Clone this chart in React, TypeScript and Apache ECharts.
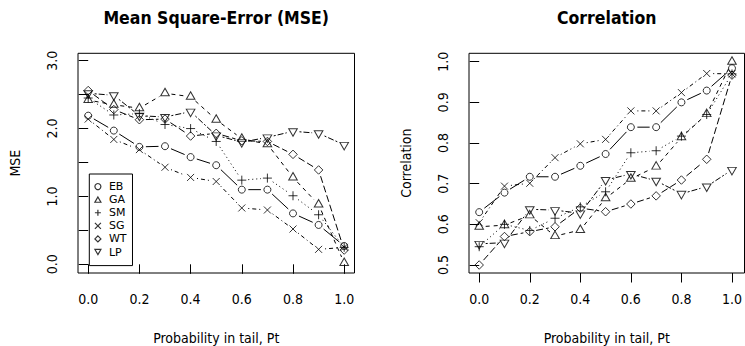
import React, { useEffect, useRef } from "react";
import * as echarts from "echarts";

// ---- data ----
const probTail = [0, 0.1, 0.2, 0.3, 0.4, 0.5, 0.6, 0.7, 0.8, 0.9, 1.0];
const methods = ["EB", "GA", "SM", "SG", "WT", "LP"];

const mseEB = [2.19, 1.97, 1.73, 1.74, 1.58, 1.46, 1.10, 1.10, 0.75, 0.58, 0.27];
const mseGA = [2.42, 2.35, 2.30, 2.52, 2.47, 2.13, 1.85, 1.77, 1.28, 0.88, 0.02];
const mseSM = [2.45, 2.20, 2.22, 2.06, 2.00, 1.81, 1.24, 1.27, 1.01, 0.73, 0.25];
const mseSG = [2.14, 1.84, 1.69, 1.43, 1.28, 1.22, 0.83, 0.80, 0.52, 0.22, 0.25];
const mseWT = [2.56, 2.28, 2.13, 2.14, 1.89, 1.93, 1.82, 1.81, 1.62, 1.39, 0.21];
const mseLP = [2.52, 2.49, 2.19, 2.17, 2.25, 1.90, 1.80, 1.87, 1.96, 1.93, 1.76];

const corEB = [0.630, 0.678, 0.717, 0.717, 0.744, 0.773, 0.839, 0.839, 0.900, 0.929, 0.984];
const corGA = [0.594, 0.598, 0.622, 0.571, 0.586, 0.664, 0.712, 0.742, 0.814, 0.871, 1.000];
const corSM = [0.545, 0.600, 0.585, 0.615, 0.643, 0.680, 0.776, 0.781, 0.817, 0.870, 0.970];
const corSG = [0.604, 0.694, 0.701, 0.764, 0.798, 0.809, 0.879, 0.879, 0.924, 0.971, 0.970];
const corWT = [0.500, 0.570, 0.582, 0.594, 0.640, 0.631, 0.650, 0.670, 0.709, 0.760, 0.967];
const corLP = [0.552, 0.555, 0.637, 0.635, 0.627, 0.709, 0.724, 0.707, 0.675, 0.693, 0.734];

const mseSeries = [mseEB, mseGA, mseSM, mseSG, mseWT, mseLP];
const corSeries = [corEB, corGA, corSM, corSG, corWT, corLP];

const titles = ["Mean Square-Error (MSE)", "Correlation"];
const yNames = ["MSE", "Correlation"];
const xName = "Probability in tail, Pt";

// ---- styles ----
const FONT = "'DejaVu Sans Condensed', 'DejaVu Sans', sans-serif";
const RAD = 3.2;
const symbols: any[] = [
  { symbol: "circle", size: 7, offset: [0, 0] },
  { symbol: "path://M0,-1.555L1.347,0.778L-1.347,0.778Z", size: [8.6, 7.5], offset: [0, -0.389 * RAD] },
  { symbol: "path://M-1,0L1,0M0,-1L0,1", size: 9, offset: [0, 0] },
  { symbol: "path://M-1,-1L1,1M1,-1L-1,1", size: 7, offset: [0, 0] },
  { symbol: "path://M0,-1L1,0L0,1L-1,0Z", size: 8.5, offset: [0, 0] },
  { symbol: "path://M0,1.555L1.347,-0.778L-1.347,-0.778Z", size: [8.6, 7.5], offset: [0, 0.389 * RAD] },
];
const dashes: any[] = [null, [4, 4], [1, 3], [1, 3, 4, 3], [7, 3], [2, 2, 6, 2]];
const GAP = 6.5;
const HOLLOW = { color: "rgba(0,0,0,0)", borderColor: "#000", borderWidth: 1 };

// panel geometry
const panels = [
  { boxL: 78, boxR: 354.5, x0: 88.2, x1: 344.2, yTop: 60.7, yBot: 264.3, ymin: 0, ymax: 3, yint: 0.5 },
  { boxL: 469, boxR: 744.5, x0: 479.2, x1: 734.3, yTop: 61.7, yBot: 265, ymin: 0.5, ymax: 1.0, yint: 0.1 },
];
const BOX_T = 53.3;
const BOX_B = 273;

function segRender(dash: any) {
  return (params: any, api: any) => {
    const a = api.coord([api.value(0), api.value(1)]);
    const b = api.coord([api.value(2), api.value(3)]);
    const dx = b[0] - a[0];
    const dy = b[1] - a[1];
    const len = Math.hypot(dx, dy);
    if (len <= 2 * GAP) return { type: "group", children: [] };
    const ux = dx / len;
    const uy = dy / len;
    return {
      type: "line",
      silent: true,
      shape: { x1: a[0] + ux * GAP, y1: a[1] + uy * GAP, x2: b[0] - ux * GAP, y2: b[1] - uy * GAP },
      style: { stroke: "#000", lineWidth: 1, lineDash: dash || undefined, fill: null },
    };
  };
}

function buildOption() {
  const grid: any[] = [];
  const xAxis: any[] = [];
  const yAxis: any[] = [];
  const series: any[] = [];
  const graphic: any[] = [];

  panels.forEach((p, gi) => {
    grid.push({ left: p.x0, top: p.yTop, width: p.x1 - p.x0, height: p.yBot - p.yTop });
    xAxis.push({
      gridIndex: gi,
      type: "value",
      min: 0,
      max: 1,
      interval: 0.2,
      offset: BOX_B - p.yBot,
      axisLine: { show: false },
      axisTick: { show: true, length: 9.5, lineStyle: { color: "#000", width: 1 } },
      axisLabel: {
        margin: 19,
        fontSize: 14,
        fontFamily: FONT,
        color: "#000",
        formatter: (v: number) => v.toFixed(1),
      },
      splitLine: { show: false },
    });
    yAxis.push({
      gridIndex: gi,
      type: "value",
      min: p.ymin,
      max: p.ymax,
      interval: p.yint,
      offset: p.x0 - p.boxL,
      axisLine: { show: false },
      axisTick: { show: true, length: 9.5, lineStyle: { color: "#000", width: 1 } },
      axisLabel: {
        margin: 19,
        rotate: 90,
        fontSize: 14,
        fontFamily: FONT,
        color: "#000",
        formatter: (v: number) =>
          gi === 0 ? (Math.abs(v - Math.round(v)) < 1e-9 ? v.toFixed(1) : "") : v.toFixed(1),
      },
      splitLine: { show: false },
    });

    const data = gi === 0 ? mseSeries : corSeries;
    methods.forEach((m, si) => {
      const ys = data[si];
      const segs = probTail.slice(1).map((x, i) => [probTail[i], ys[i], x, ys[i + 1]]);
      series.push({
        type: "custom",
        name: m + "_line" + gi,
        xAxisIndex: gi,
        yAxisIndex: gi,
        renderItem: segRender(dashes[si]),
        encode: { x: [0, 2], y: [1, 3] },
        data: segs,
        silent: true,
      });
      const sym = symbols[si];
      series.push({
        type: "scatter",
        name: m,
        xAxisIndex: gi,
        yAxisIndex: gi,
        symbol: sym.symbol,
        symbolSize: sym.size,
        symbolOffset: sym.offset,
        itemStyle: HOLLOW,
        data: probTail.map((x, i) => [x, ys[i]]),
        silent: true,
      });
    });

    graphic.push({
      type: "rect",
      silent: true,
      shape: { x: p.boxL, y: BOX_T, width: p.boxR - p.boxL, height: BOX_B - BOX_T },
      style: { fill: "none", stroke: "#000", lineWidth: 1 },
    });
    const cx = (p.boxL + p.boxR) / 2;
    graphic.push({
      type: "text",
      silent: true,
      x: cx,
      y: 17.5,
      style: {
        text: titles[gi],
        align: "center",
        verticalAlign: "middle",
        fontSize: 17.5,
        fontWeight: "bold",
        fontFamily: FONT,
        fill: "#000",
      },
    });
    graphic.push({
      type: "text",
      silent: true,
      x: cx,
      y: 338,
      style: {
        text: xName,
        align: "center",
        verticalAlign: "middle",
        fontSize: 14,
        fontFamily: FONT,
        fill: "#000",
      },
    });
    graphic.push({
      type: "text",
      silent: true,
      x: p.boxL - 63.5,
      y: (BOX_T + BOX_B) / 2,
      rotation: Math.PI / 2,
      style: {
        text: yNames[gi],
        align: "center",
        verticalAlign: "middle",
        fontSize: 14,
        fontFamily: FONT,
        fill: "#000",
      },
    });
  });

  return {
    animation: false,
    backgroundColor: "#fff",
    grid,
    xAxis,
    yAxis,
    series,
    graphic,
    legend: {
      data: methods,
      orient: "vertical",
      left: 89.3,
      top: 174,
      itemWidth: 6,
      itemHeight: 6,
      itemGap: 0,
      selectedMode: false,
      padding: [6, 6, 7, 5],
      borderColor: "#000",
      borderWidth: 1,
      backgroundColor: "#fff",
      itemStyle: { color: "rgba(0,0,0,0)", borderColor: "#000", borderWidth: 1.2 },
      textStyle: { fontSize: 11, fontFamily: "'DejaVu Sans', sans-serif", color: "#000", lineHeight: 13.1, padding: [0, 0, 0, 3] },
    },
  };
}

export default function App() {
  const ref = useRef<HTMLDivElement>(null);
  useEffect(() => {
    if (!ref.current) return;
    const chart = echarts.init(ref.current, null, { renderer: "svg" });
    chart.setOption(buildOption() as any);
    return () => chart.dispose();
  }, []);
  return <div ref={ref} style={{ position: "fixed", left: 0, top: 0, width: 745, height: 346 }} />;
}
